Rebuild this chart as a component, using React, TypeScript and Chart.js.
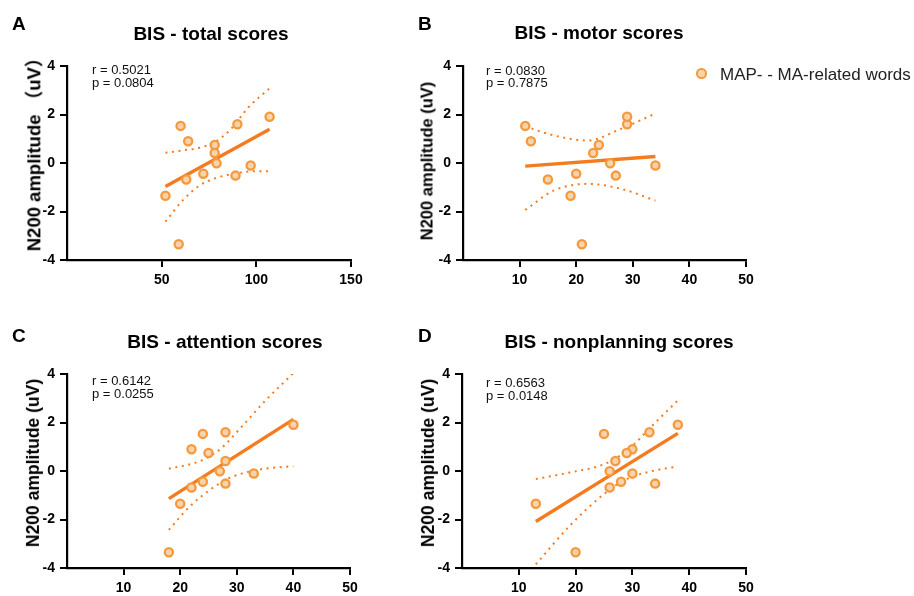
import React, { useEffect, useRef } from "react";
import { Chart, registerables } from "chart.js";

Chart.register(...registerables);

const FONT = "Arial, 'Liberation Sans', Helvetica, 'Noto Sans CJK SC', sans-serif";
const MARKER_EDGE = "#F59A3C";
const MARKER_FILL = "#F9D3AE";
const LINE = "#F47B20";
const TEXT = "#111111";

// ---------- data ----------
// N200 amplitude (uV) of each participant, same order in all four panels
const n200Amplitude = [1.53, 0.9, 0.74, 0.41, -0.01, -0.68, -0.44, -0.52, -0.1, 1.6, 1.91, -1.35, -3.35];
// BIS scores of the same participants
const bisTotal = [60, 64, 78, 78, 79, 63, 72, 89, 97, 90, 107, 52, 59];
const bisMotor = [11, 12, 24, 23, 26, 15, 20, 27, 34, 29, 29, 19, 21];
const bisAttention = [24, 22, 25, 28, 27, 22, 24, 28, 33, 28, 40, 20, 18];
const bisNonplanning = [25, 30, 29, 27, 26, 26, 28, 34, 30, 33, 38, 13, 20];

// regression lines and 95% confidence bands
const totalFitX = [52, 107];
const totalFitY = [-0.97, 1.39];
const totalUpperX = [52, 61, 70, 78, 86, 96, 107];
const totalUpperY = [0.42, 0.52, 0.63, 0.86, 1.35, 2.31, 3.08];
const totalLowerX = [52, 61, 70, 79, 87.5, 96, 107];
const totalLowerY = [-2.42, -1.55, -0.93, -0.61, -0.45, -0.35, -0.34];

const motorFitX = [11, 34];
const motorFitY = [-0.13, 0.27];
const motorUpperX = [11, 16, 22, 28, 34];
const motorUpperY = [1.51, 1.14, 0.93, 1.42, 2.04];
const motorLowerX = [11, 16, 22, 28, 34];
const motorLowerY = [-1.94, -1.14, -0.86, -1.07, -1.55];

const attentionFitX = [18, 40];
const attentionFitY = [-1.14, 2.13];
const attentionUpperX = [18, 23.5, 27, 31, 35, 40];
const attentionUpperY = [0.09, 0.41, 0.89, 1.86, 2.89, 4.04];
const attentionLowerX = [18, 21.7, 25.3, 28.8, 34, 40];
const attentionLowerY = [-2.43, -1.46, -0.77, -0.28, 0.06, 0.2];

const nonplanningFitX = [13, 38];
const nonplanningFitY = [-2.08, 1.55];
const nonplanningUpperX = [13, 19, 25, 29, 33.7, 38];
const nonplanningUpperY = [-0.33, -0.06, 0.28, 0.83, 1.92, 2.91];
const nonplanningLowerX = [13, 19, 25, 29, 33.7, 38];
const nonplanningLowerY = [-3.85, -2.25, -0.95, -0.33, 0.01, 0.19];

const yTicks = [-4, -2, 0, 2, 4];
const totalXTicks = [50, 100, 150];
const subscaleXTicks = [10, 20, 30, 40, 50];

const panelLetters = ["A", "B", "C", "D"];
const panelTitles = ["BIS - total scores", "BIS - motor scores", "BIS - attention scores", "BIS - nonplanning scores"];
const rTexts = ["r = 0.5021", "r = 0.0830", "r = 0.6142", "r = 0.6563"];
const pTexts = ["p = 0.0804", "p = 0.7875", "p = 0.0255", "p = 0.0148"];
const yTitles = ["N200 amplitude （uV）", "N200 amplitude (uV)", "N200 amplitude (uV)", "N200 amplitude (uV)"];
const seriesLabel = "MAP- - MA-related words";

// ---------- layout ----------
type Layout = {
  canvas: { left: number; top: number; width: number; height: number };
  area: { left: number; top: number; right: number; bottom: number };
  xMin: number;
  xMax: number;
  letter: { x: number; base: number };
  title: { cx: number; base: number };
  stats: { x: number; base1: number; base2: number };
  yTitle: { cx: number; cy: number; size: number };
};

const layouts: Layout[] = [
  {
    canvas: { left: 0, top: 0, width: 400, height: 298 },
    area: { left: 67, top: 66, right: 351, bottom: 260 },
    xMin: 0, xMax: 150,
    letter: { x: 12, base: 30 },
    title: { cx: 211, base: 40 },
    stats: { x: 92, base1: 74, base2: 87 },
    yTitle: { cx: 33.5, cy: 150, size: 18.5 },
  },
  {
    canvas: { left: 400, top: 0, width: 514, height: 298 },
    area: { left: 463, top: 66, right: 746, bottom: 260 },
    xMin: 0, xMax: 50,
    letter: { x: 418, base: 30 },
    title: { cx: 599, base: 39 },
    stats: { x: 486, base1: 75, base2: 87 },
    yTitle: { cx: 427, cy: 160.5, size: 16.5 },
  },
  {
    canvas: { left: 0, top: 298, width: 400, height: 298 },
    area: { left: 67, top: 374, right: 350, bottom: 568 },
    xMin: 0, xMax: 50,
    letter: { x: 12, base: 342 },
    title: { cx: 225, base: 348 },
    stats: { x: 92, base1: 385, base2: 398 },
    yTitle: { cx: 33, cy: 462.5, size: 17.5 },
  },
  {
    canvas: { left: 400, top: 298, width: 514, height: 298 },
    area: { left: 462, top: 374, right: 746, bottom: 568 },
    xMin: 0, xMax: 50,
    letter: { x: 418, base: 342 },
    title: { cx: 619, base: 348 },
    stats: { x: 486, base1: 387, base2: 400 },
    yTitle: { cx: 428, cy: 462.5, size: 17.5 },
  },
];

type Series = {
  x: number[];
  fitX: number[]; fitY: number[];
  upX: number[]; upY: number[];
  loX: number[]; loY: number[];
  ticks: number[];
};

const series: Series[] = [
  { x: bisTotal, fitX: totalFitX, fitY: totalFitY, upX: totalUpperX, upY: totalUpperY, loX: totalLowerX, loY: totalLowerY, ticks: totalXTicks },
  { x: bisMotor, fitX: motorFitX, fitY: motorFitY, upX: motorUpperX, upY: motorUpperY, loX: motorLowerX, loY: motorLowerY, ticks: subscaleXTicks },
  { x: bisAttention, fitX: attentionFitX, fitY: attentionFitY, upX: attentionUpperX, upY: attentionUpperY, loX: attentionLowerX, loY: attentionLowerY, ticks: subscaleXTicks },
  { x: bisNonplanning, fitX: nonplanningFitX, fitY: nonplanningFitY, upX: nonplanningUpperX, upY: nonplanningUpperY, loX: nonplanningLowerX, loY: nonplanningLowerY, ticks: subscaleXTicks },
];

const pts = (xs: number[], ys: number[]) => xs.map((x, i) => ({ x, y: ys[i] }));

const POINT_R = 4.1;
const POINT_BW = 2.3;

function Panel({ idx }: { idx: number }) {
  const ref = useRef<HTMLCanvasElement | null>(null);
  const L = layouts[idx];
  const S = series[idx];

  useEffect(() => {
    if (!ref.current) return;
    const c = L.canvas;
    const a = L.area;
    const tickFont = { family: FONT, size: 14, weight: "bold" as const };
    const axisCommon = {
      type: "linear" as const,
      grid: { display: true, drawOnChartArea: false, drawTicks: true, tickLength: 7, lineWidth: 2, color: "#000" },
      border: { display: true, width: 2.2, color: "#000" },
    };
    const chart = new Chart(ref.current, {
      type: "scatter",
      data: {
        datasets: [
          {
            label: seriesLabel,
            data: pts(S.x, n200Amplitude),
            pointRadius: POINT_R,
            pointBorderWidth: POINT_BW,
            borderColor: MARKER_EDGE,
            backgroundColor: MARKER_FILL,
            order: 0,
          },
          {
            type: "line",
            label: "fit",
            data: pts(S.fitX, S.fitY),
            borderColor: LINE,
            borderWidth: 3.4,
            pointRadius: 0,
            order: 1,
          },
          {
            type: "line",
            label: "upper 95% CI",
            data: pts(S.upX, S.upY),
            borderColor: LINE,
            borderWidth: 2,
            borderDash: [2, 4.6],
            pointRadius: 0,
            cubicInterpolationMode: "monotone",
            order: 2,
          },
          {
            type: "line",
            label: "lower 95% CI",
            data: pts(S.loX, S.loY),
            borderColor: LINE,
            borderWidth: 2,
            borderDash: [2, 4.6],
            pointRadius: 0,
            cubicInterpolationMode: "monotone",
            order: 3,
          },
        ] as any,
      },
      options: {
        animation: false,
        responsive: false,
        events: [],
        layout: {
          padding: {
            left: 0,
            top: a.top - c.top,
            right: c.width - (a.right - c.left),
            bottom: 0,
          },
        },
        plugins: {
          legend: { display: false },
          tooltip: { enabled: false },
          title: { display: false },
        },
        scales: {
          x: {
            ...axisCommon,
            min: L.xMin,
            max: L.xMax,
            afterBuildTicks: (s: any) => {
              s.ticks = S.ticks.map((v) => ({ value: v }));
            },
            afterFit: (s: any) => {
              s.height = c.top + c.height - a.bottom;
            },
            ticks: { font: tickFont, color: "#000", padding: 5, maxRotation: 0, autoSkip: false },
          },
          y: {
            ...axisCommon,
            min: -4,
            max: 4,
            afterBuildTicks: (s: any) => {
              s.ticks = yTicks.map((v) => ({ value: v }));
            },
            afterFit: (s: any) => {
              s.width = a.left - c.left;
            },
            ticks: { font: tickFont, color: "#000", padding: 5, autoSkip: false },
          },
        },
      } as any,
    });
    return () => chart.destroy();
  }, [idx]);

  const fsLetter = 19;
  const fsTitle = 19;
  const fsStats = 13;
  const baseTop = (base: number, fs: number) => base - 0.8465 * fs;

  return (
    <>
      <canvas
        ref={ref}
        width={L.canvas.width}
        height={L.canvas.height}
        style={{ position: "absolute", left: L.canvas.left, top: L.canvas.top, width: L.canvas.width, height: L.canvas.height }}
      />
      <div
        style={{
          position: "absolute", left: L.letter.x, top: baseTop(L.letter.base, fsLetter),
          fontSize: fsLetter, lineHeight: 1, fontWeight: "bold", color: "#000", whiteSpace: "nowrap",
        }}
      >
        {panelLetters[idx]}
      </div>
      <div
        style={{
          position: "absolute", left: L.title.cx, top: baseTop(L.title.base, fsTitle), transform: "translateX(-50%)",
          fontSize: fsTitle, lineHeight: 1, fontWeight: "bold", color: "#000", whiteSpace: "nowrap",
        }}
      >
        {panelTitles[idx]}
      </div>
      <div
        style={{
          position: "absolute", left: L.stats.x, top: baseTop(L.stats.base1, fsStats),
          fontSize: fsStats, lineHeight: 1, color: TEXT, whiteSpace: "nowrap",
        }}
      >
        {rTexts[idx]}
      </div>
      <div
        style={{
          position: "absolute", left: L.stats.x, top: baseTop(L.stats.base2, fsStats),
          fontSize: fsStats, lineHeight: 1, color: TEXT, whiteSpace: "nowrap",
        }}
      >
        {pTexts[idx]}
      </div>
      <div
        style={{
          position: "absolute", left: L.yTitle.cx, top: L.yTitle.cy,
          transform: "translate(-50%, -50%) rotate(-90deg)",
          fontSize: L.yTitle.size, lineHeight: 1.15, fontWeight: "bold", color: "#000", whiteSpace: "nowrap",
        }}
      >
        {yTitles[idx]}
      </div>
    </>
  );
}

export default function App() {
  const outer = 2 * (POINT_R + POINT_BW / 2);
  return (
    <div
      style={{
        position: "absolute", left: 0, top: 0, width: 914, height: 596,
        background: "#fff", fontFamily: FONT, overflow: "hidden",
      }}
    >
      {[0, 1, 2, 3].map((i) => (
        <Panel key={i} idx={i} />
      ))}
      {/* legend */}
      <div
        style={{
          position: "absolute", left: 701.5 - outer / 2, top: 73.3 - outer / 2, width: outer, height: outer,
          boxSizing: "border-box", borderRadius: "50%", border: `${POINT_BW}px solid ${MARKER_EDGE}`, background: MARKER_FILL,
        }}
      />
      <div
        style={{
          position: "absolute", left: 720, top: 80 - 0.8465 * 17, fontSize: 17, lineHeight: 1,
          color: "#222", whiteSpace: "nowrap",
        }}
      >
        {seriesLabel}
      </div>
    </div>
  );
}
